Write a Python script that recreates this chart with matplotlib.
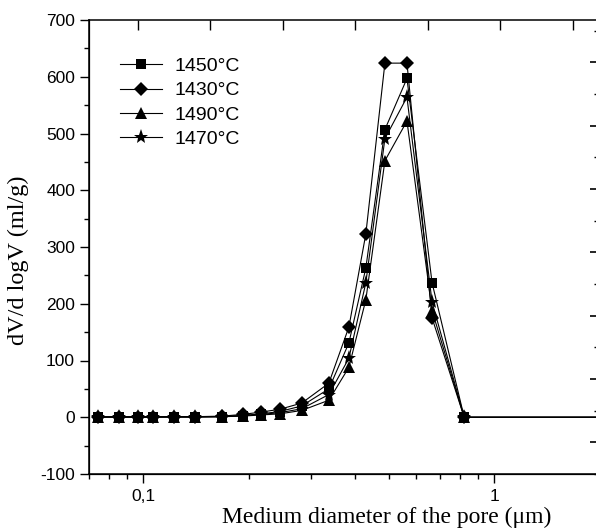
import matplotlib
matplotlib.use('Agg')
import matplotlib.pyplot as plt
from matplotlib.ticker import FixedLocator, FixedFormatter, NullFormatter, LogLocator

plt.rcParams['axes.unicode_minus'] = False

# pore diameter (um) and dV/dlogV (ml/g) for each sintering temperature
diam = [0.0744, 0.0854, 0.0968, 0.1068, 0.1226, 0.1408, 0.1681, 0.1918, 0.216,
        0.2447, 0.2828, 0.3378, 0.3853, 0.4306, 0.488, 0.564, 0.665, 0.821, 3.0]
v1450 = [1, 1, 1, 1, 1, 1, 1, 3, 6, 10, 20, 50, 131, 263, 507, 597, 237, 0, 0]
v1430 = [1, 1, 1, 1, 1, 1, 2, 5, 9, 14, 25, 60, 159, 323, 624, 624, 175, 0, 0]
v1490 = [0, 0, 0, 0, 0, 0, 1, 2, 4, 6, 12, 30, 88, 207, 452, 522, 188, 0, 0]
v1470 = [0, 0, 0, 0, 1, 1, 1, 3, 5, 8, 15, 40, 104, 237, 491, 564, 203, 0, 0]

series = [('1450°C', v1450, 's', 7), ('1430°C', v1430, 'D', 7.5),
          ('1490°C', v1490, '^', 8.5), ('1470°C', v1470, '*', 11)]

sans = 'Liberation Sans'
serif = 'Liberation Serif'

fig = plt.figure(figsize=(5.96, 5.28), dpi=100)
ax = fig.add_axes([89 / 596, 1 - 474 / 528, 1 - 89 / 596, (474 - 20) / 528])

for lab, vals, mk, ms in series:
    ax.plot(diam, vals, color='black', lw=0.8, marker=mk, ms=ms,
            markeredgewidth=0, label=lab)

ax.set_xscale('log')
ax.set_xlim(0.07, 1.95)
ax.set_ylim(-100, 700)
ax.xaxis.set_major_locator(FixedLocator([0.1, 1]))
ax.xaxis.set_major_formatter(FixedFormatter(['0,1', '1']))
ax.xaxis.set_minor_locator(LogLocator(base=10, subs=range(2, 10)))
ax.xaxis.set_minor_formatter(NullFormatter())
ax.set_yticks(range(-100, 701, 100))
ax.set_yticks(range(-50, 701, 100), minor=True)

for sp in ax.spines.values():
    sp.set_linewidth(1.1)
ax.spines['right'].set_visible(False)
ax.spines['top'].set_visible(False)

ax.tick_params(which='major', direction='out', length=6.5, width=1.0,
               labelsize=12.5, top=False, right=False)
ax.tick_params(which='minor', direction='out', length=3.5, width=1.0,
               top=False, right=False)
ax.tick_params(axis='x', which='major', pad=4)
for t in ax.get_xticklabels() + ax.get_yticklabels():
    t.set_fontfamily(sans)

ax.set_xlabel('Medium diameter of the pore (μm)', fontfamily=serif, fontsize=17)
ax.xaxis.set_label_coords(0.588, -0.072)
ax.set_ylabel('dV/d logV (ml/g)', fontfamily=serif, fontsize=17.5)
ax.yaxis.set_label_coords(-0.118, 0.47)

# independent top / right frame axes with their own ticks
top = ax.twiny()
top.set_xlim(0, 7)
top.set_xticks([0.677 + k for k in range(7)])
top.tick_params(axis='x', direction='in', length=7, width=1.0, labeltop=False)
top.spines['top'].set_linewidth(1.1)
top.spines['right'].set_visible(False)

right = ax.twinx()
right.set_ylim(0, 7.17)
right.set_yticks([0.5 + k for k in range(7)])
right.set_yticks(list(range(8)), minor=True)
right.tick_params(axis='y', which='major', direction='in', length=4.5, width=1.2,
                  labelright=False)
right.tick_params(axis='y', which='minor', direction='in', length=1.5, width=1.0)
right.spines['right'].set_visible(False)
right.spines['top'].set_visible(False)

leg = ax.legend(loc='upper left', bbox_to_anchor=(0.045, 0.935), frameon=False,
                handlelength=2.2, handletextpad=0.6, labelspacing=0.35,
                borderaxespad=0, prop={'family': sans, 'size': 14})

fig.savefig('out.png', dpi=100)
